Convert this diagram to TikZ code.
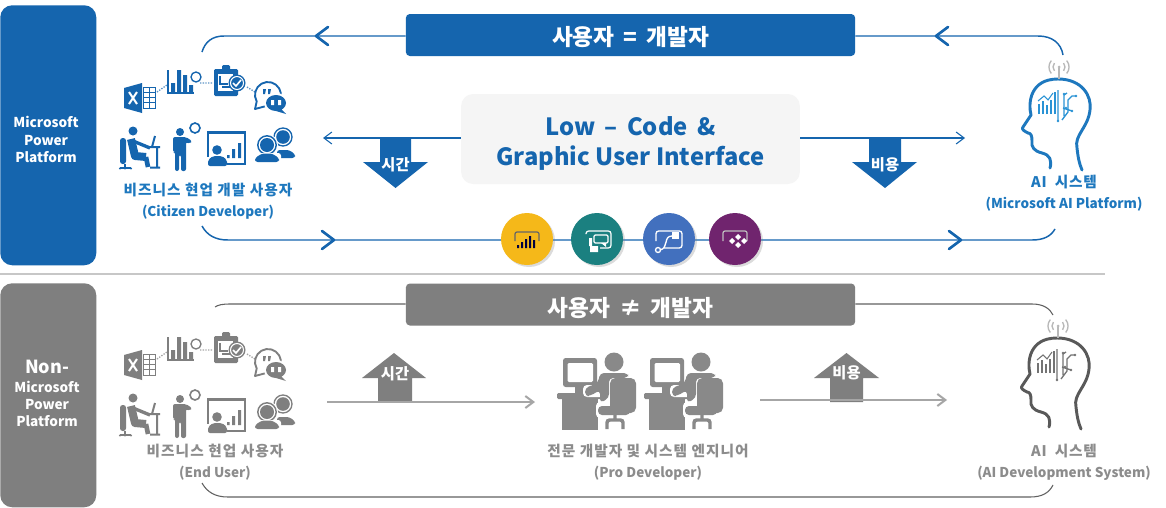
\documentclass[tikz,border=0pt]{standalone}
\usepackage{fontspec}
\setmainfont{Noto Sans CJK KR}
\usetikzlibrary{arrows.meta,shadows,calc}
\definecolor{pblue}{HTML}{1565AE}
\definecolor{pgray}{HTML}{7F7F7F}
\definecolor{lblue}{HTML}{1E78BE}
\definecolor{hblue}{HTML}{2A93D5}
\newcommand{\hgl}[2]{{\fontsize{11}{15.75}\selectfont\addfontfeature{LetterSpace=#1}#2}}
\tikzset{
  x=0.75pt,y=-0.75pt,
  panel/.style={draw=none,rounded corners=9pt},
  paneltext/.style={text=white,font=\bfseries\fontsize{10.2}{12.8}\selectfont,align=center},
  banner/.style={rounded corners=3pt,fill=none,text=white,font=\bfseries\fontsize{17}{20}\selectfont,align=center},
  bluelab/.style={text=lblue,font=\bfseries\fontsize{10.15}{15.75}\selectfont,align=center},
  graylab/.style={text=pgray!90,font=\bfseries\fontsize{10.15}{15.75}\selectfont,align=center},
  conn/.style={draw=pblue,line width=1.1pt},
  gconn/.style={draw=black!62,line width=0.8pt},
  chev/.style={draw=pblue,line width=2pt,line cap=round,line join=round},
  thin arrow/.style={draw=pblue,line width=0.8pt,-{Straight Barb[length=6pt,width=9pt]}},
  gray arrow/.style={draw=black!35,line width=1.5pt,-{Straight Barb[length=6pt,width=9pt]}},
  appc/.style={circle,minimum size=39pt,inner sep=0pt,draw=none,drop shadow={opacity=.28,shadow xshift=1.5pt,shadow yshift=-1.5pt}},
  blocklab/.style={text=white,font=\bfseries\fontsize{11.5}{13}\selectfont,inner sep=0pt},
}
% office icons, given in the coordinates of the blue set
\newcommand{\officeicons}[1]{%
  \fill[#1] (124,88)--(142,83)--(142,113)--(124,108)--cycle;
  \draw[white,line width=1.5pt] (129,92)--(137,104) (137,92)--(129,104);
  \draw[#1,line width=.7pt] (143,87) rectangle (155,108) (143,92)--(155,92) (143,97)--(155,97) (143,102)--(155,102) (149,87)--(149,108);
  \draw[#1!70,densely dotted,line width=1pt] (157,92)--(167,85) (200,83)--(212,83) (247,87)--(255,92);
  \draw[#1,line width=1pt] (168,70)--(168,93)--(194,93);
  \fill[#1] (171,83) rectangle (175,92) (177,70) rectangle (181,92) (183,75) rectangle (187,92) (189,85) rectangle (193,92);
  \draw[#1,line width=1pt,fill=white] (196,77) circle[radius=5];
  \fill[#1,rounded corners=1pt] (214,69) rectangle (238,96) (222,65) rectangle (230,71);
  \fill[white] (218,74) rectangle (233,91);
  \draw[#1,line width=.8pt] (220,76)--(220,84)--(228,84) (222,87)--(230,87);
  \fill[#1] (237,83) circle[radius=8.5];
  \draw[white,line width=.8pt] (237,83) circle[radius=6.5];
  \draw[white,line width=1.2pt] (233,83)--(236,86)--(241,80);
  % speech bubbles
  \draw[#1,line width=1.4pt,fill=white,line join=round] (255,109)--(256.7,101.5) arc[start angle=150,end angle=370,radius=13] -- (270,105) -- cycle;
  \fill[#1] (263,89)--(266,89)--(265,94)--(263,94)--cycle (268,89)--(271,89)--(270,94)--(268,94)--cycle;
  \fill[white] (276,103) ellipse[x radius=12,y radius=10];
  \fill[#1] (276,103) ellipse[x radius=10,y radius=8] (281,109)--(286,114)--(276,111)--cycle;
  \fill[white] (271,100) rectangle (274,105) (278,100) rectangle (281,105);
  % desk worker
  \fill[#1] (133,131) circle[radius=4.5];
  \fill[#1,rounded corners=2pt] (120,138) rectangle (126,164);
  \draw[#1,line width=6pt,line join=round] (131,139)--(135,156)--(146,157);
  \draw[#1,line width=3.5pt] (146,157)--(148,167);
  \draw[#1,line width=2.5pt] (133,141)--(150,148);
  \draw[#1,line width=1.5pt] (148,147)--(160,147) (157,147)--(157,167) (150,167.5)--(160,167.5) (152,147)--(155,136);
  \draw[#1,line width=1.2pt] (125,164)--(125,167) (120,168)--(131,168);
  \fill[#1] (120,168.5) circle[radius=1.2] (125,168.5) circle[radius=1.2] (131,168.5) circle[radius=1.2];
  % standing man
  \fill[#1] (180,132) circle[radius=4];
  \fill[#1,rounded corners=1.5pt] (173,137)--(186,137)--(192,141)--(190,144)--(186,142)--(186,171)--(181,171)--(181,155)--(179,155)--(179,171)--(175,171)--(175,152)--(173,152)--cycle;
  \draw[#1,line width=1.2pt,fill=white] (195,128) circle[radius=5];
  % presenter and board
  \fill[#1] (207,131) rectangle (246,134);
  \draw[#1,line width=1pt] (208,134)--(208,157) (245,134)--(245,164)--(227,164);
  \fill[#1] (217,150) circle[radius=4.8];
  \fill[#1,rounded corners=1.5pt] (208,166) -- (208,160) -- (213,156) -- (222,156) -- (227,160) -- (227,166) -- cycle;
  \fill[#1] (227,155) rectangle (229.5,158) (232,149) rectangle (235,158) (238,143) rectangle (241,158);
  % call agents
  \draw[#1,line width=1pt] (283,137) circle[radius=9];
  \fill[#1] (283,137) circle[radius=6.8];
  \fill[#1,rounded corners=2pt] (277,158)--(277,150)--(289,150)--(295,154)--(295,158)--cycle;
  \fill[white] (267,145) circle[radius=11];
  \draw[#1,line width=1.1pt] (267,145) circle[radius=9.2];
  \fill[#1] (267,145) circle[radius=7];
  \fill[white,rounded corners=2pt] (253,164)--(253,153)--(281,153)--(281,164)--cycle;
  \fill[#1,rounded corners=2pt] (255,162)--(255,158)--(262,153.5)--(272,153.5)--(279,158)--(279,162)--cycle;
}
% head, given in the coordinates of the blue one
\newcommand{\headicon}[3]{%
  \draw[#1,line width=2.2pt,line join=round,line cap=round]
    (1050,168) .. controls (1052,160) and (1050,155) .. (1042,153)
    .. controls (1034,151) and (1031,147) .. (1032,141)
    .. controls (1032,136) and (1031,133) .. (1028,133)
    .. controls (1024,131) and (1021,129) .. (1023,127)
    -- (1031,115)
    .. controls (1028,103) and (1030,79) .. (1058,79)
    .. controls (1082,79) and (1092,96) .. (1090,110)
    .. controls (1088,128) and (1074,135) .. (1077,148)
    .. controls (1078,157) and (1079,163) .. (1082,170);
  \draw[#2,line width=1pt] (1039,114)--(1039,104) (1043,114)--(1043,101) (1047,114)--(1047,105) (1051,114)--(1051,100) (1055,114)--(1055,92);
  \draw[#2,line width=.8pt] (1038,101)--(1044,96)--(1048,100)--(1053,93);
  \draw[#2,line width=1pt] (1058,121)--(1058,90) (1064,116)--(1064,95)--(1067,93)
     (1062,120)--(1068,112)--(1068,100)--(1072,96)--(1076,96) (1063,108)--(1072,111);
  \fill[#2] (1058,121) circle[radius=1.4] (1064,94) circle[radius=1.3] (1076,96) circle[radius=1.3] (1072,111) circle[radius=1.3] (1066,108) circle[radius=1.3];
  \draw[#3,line width=1.2pt] (1059,79)--(1059,68);
  \fill[#3] (1059,67) circle[radius=1.5];
  \draw[#3,line width=1pt] (1054.4,63.1) arc[start angle=220,end angle=140,radius=6]
     (1063.6,63.1) arc[start angle=-40,end angle=40,radius=6]
     (1051.3,60.6) arc[start angle=220,end angle=140,radius=10]
     (1066.7,60.6) arc[start angle=-40,end angle=40,radius=10];
}
\newcommand{\deskicon}{%
  \fill[pgray!92,rounded corners=2pt] (563,358) rectangle (597,387);
  \fill[white,rounded corners=1pt] (567.5,363) rectangle (593,382);
  \fill[pgray!92] (575,387) rectangle (585,393);
  \fill[pgray!92,rounded corners=1pt] (557,393) rectangle (601,399);
  \fill[pgray!92] (562,394) rectangle (598,430);
  \fill[pgray!92] (614,362) circle[radius=9.5];
  \fill[white,rounded corners=3pt] (583,385) rectangle (610,397);
  \fill[pgray!92,rounded corners=3pt] (600,373)--(628,373)--(628,378)--(609,378)--(609,398)--(600,403)--(600,390)--(590,396)--(585,396)--(585,388)--(598,383)--cycle;
  \fill[white,rounded corners=3pt] (596,402) rectangle (612,418);
  \fill[pgray!92,rounded corners=4pt] (610,378) rectangle (636,413);
  \fill[pgray!92,rounded corners=3pt] (598,406) rectangle (630,415);
  \draw[pgray!92,line width=2.6pt,rounded corners=2pt] (607,429)--(607,420)--(623,420)--(623,429) (615,415)--(615,420);
}
\begin{document}
\begin{tikzpicture}
\useasboundingbox (0,0) rectangle (1166,507);
\fill[white] (0,0) rectangle (1166,507);
% left panels
\node[panel,fill=pblue,minimum width=72pt,minimum height=195pt,anchor=north west] (msp) at (0,5) {};
\node[paneltext] (mspt) at (46,139.5) {Microsoft\\Power\\Platform};
\node[panel,fill=pgray,minimum width=72pt,minimum height=168pt,anchor=north west] (nmsp) at (0,283) {};
\node[paneltext] (nmspt) at (47,393) {{\fontsize{13.5}{16}\selectfont Non-}\\[1.5pt]Microsoft\\Power\\Platform};
% separator
\coordinate (sepa) at (0,274); \coordinate (sepb) at (1105,274);
\draw[black!22,line width=1.3pt] (sepa)--(sepb);
% banners
\node[rounded corners=3pt,fill=pblue,minimum width=337pt,minimum height=31.5pt,inner sep=0pt] (topb) at (630.5,35) {};
\node[banner,inner sep=0pt] (topbt) at (630.5,37.5) {사용자 \,=\, 개발자};
\node[rounded corners=3pt,fill=pgray,minimum width=337pt,minimum height=31.5pt,inner sep=0pt] (midb) at (630.5,304.5) {};
\node[banner,inner sep=0pt] (midbt) at (630.5,308) {사용자 \,≠\, 개발자};
% blue connectors
\coordinate (tl) at (202,52); \coordinate (tr) at (1063,55);
\coordinate (bl) at (202,226); \coordinate (br) at (1055,229);
\draw[conn] (tl) .. controls (205,42) and (212,36) .. (224,36) -- (topb.west |- 0,36);
\draw[conn] (topb.east |- 0,36) -- (1038,36) .. controls (1052,36) and (1061,43) .. (tr);
\draw[conn] (bl) .. controls (207,235) and (215,240) .. (228,240) -- (1032,240) .. controls (1044,240) and (1051,236) .. (br);
\draw[chev] (328,27)--(316,36)--(328,45);
\draw[chev] (948,27)--(936,36)--(948,45);
\draw[chev] (322,231)--(334,240)--(322,249);
\draw[chev] (949,231)--(961,240)--(949,249);
% centre box
\node[fill=black!4,rounded corners=9pt,minimum width=254pt,minimum height=67.5pt,inner sep=0pt] (lc) at (630.5,139) {};
\node[align=center,text=pblue,font=\bfseries\fontsize{17.8}{22.5}\selectfont,inner sep=0pt] (lct) at (630.5,143) {Low\, –\, Code\, \&\\Graphic User Interface};
\coordinate (la) at (323,138); \coordinate (ra) at (965,138);
\draw[thin arrow] (lc.west |- la) -- (la);
\draw[thin arrow] (lc.east |- ra) -- (ra);
% block arrows
\fill[pblue] (380,138) rectangle (411,162) (363,162)--(428,162)--(395.5,188)--cycle;
\node[blocklab] (t1) at (395.5,165) {시간};
\fill[pblue] (869,138) rectangle (901,162) (852,162)--(917,162)--(885,188)--cycle;
\node[blocklab] (c1) at (885,165) {비용};
\fill[pgray] (378,402) rectangle (412,378) (362,378)--(426,378)--(394,353)--cycle;
\node[blocklab] (t2) at (395,374) {시간};
\fill[pgray] (830,402) rectangle (863,378) (814,378)--(879,378)--(846.5,353)--cycle;
\node[blocklab] (c2) at (846.5,373) {비용};
% product circles
\node[appc,fill={rgb,255:red,245;green,184;blue,25}] (a1) at (527,239) {};
\node[appc,fill={rgb,255:red,27;green,128;blue,128}] (a2) at (597,239) {};
\node[appc,fill={rgb,255:red,66;green,112;blue,190}] (a3) at (669,239) {};
\node[appc,fill={rgb,255:red,112;green,36;blue,110}] (a4) at (735,239) {};
\draw[black!60,line width=.9pt,rounded corners=1.5pt] (515,241)--(515,232)--(539,232)--(539,241);
\fill[black!75!blue] (517,245) rectangle (519,248) (521,242) rectangle (523,248) (525,239) rectangle (527,248) (529,236) rectangle (531,248) (533,240) rectangle (535,248);
\draw[white,line width=.9pt,rounded corners=2pt] (586,234)--(586,231)--(611,231)--(611,248)--(600,248);
\draw[white,line width=.9pt,rounded corners=1pt] (594,235) rectangle (608,243);
\fill[white] (589,238) rectangle (592,246) (590,246) rectangle (598,252) (601,243)--(606,243)--(606,247)--cycle;
\draw[white,line width=1pt,rounded corners=2pt] (656,241)--(656,231)--(682,231)--(682,248)--(664,248);
\draw[white,line width=1pt] (660,250)..controls (669,248) and (663,236) .. (672,236);
\draw[white,line width=1pt] (658,250) circle[radius=2.5];
\fill[white] (672,232) rectangle (679,239);
\draw[white!75!black,line width=.9pt,rounded corners=1.5pt] (723,241)--(723,231)--(747,231)--(747,241);
\fill[white] (729,241)--(732,238)--(735,241)--(732,244)--cycle (735,237)--(738,234)--(741,237)--(738,240)--cycle (735,245)--(738,242)--(741,245)--(738,248)--cycle (741,241)--(744,238)--(747,241)--(744,244)--cycle;
% blue icons and labels
\officeicons{pblue}
\headicon{lblue}{hblue}{black!28}
\node[bluelab] (cit) at (208,201) {\hgl{7}{비즈니스 현업 개발 사용자}\\(Citizen Developer)};
\node[bluelab] (ais) at (1064,193) {\hgl{5}{AI \ 시스템}\\(Microsoft AI Platform)};
% gray part
\coordinate (gtl) at (215,307); \coordinate (gtr) at (1053,315);
\coordinate (gbl) at (202,483); \coordinate (gbr) at (1053,485);
\draw[gconn] (gtl) .. controls (218,305) and (222,304) .. (230,304) -- (midb.west |- 0,304);
\draw[gconn] (midb.east |- 0,304) -- (1032,304) .. controls (1044,304) and (1050,309) .. (gtr);
\draw[gconn] (gbl) .. controls (207,492) and (215,497) .. (228,497) -- (1030,497) .. controls (1042,497) and (1049,493) .. (gbr);
\begin{scope}[shift={(0,267)}]
\officeicons{pgray}
\end{scope}
\begin{scope}[shift={(-1,259)}]
\headicon{black!65}{black!55}{black!28}
\end{scope}
\deskicon
\begin{scope}[shift={(87,0)}]
\deskicon
\end{scope}
\coordinate (ga1) at (327,402); \coordinate (ga2) at (535,402);
\coordinate (ga3) at (760,400); \coordinate (ga4) at (947,400);
\draw[gray arrow] (ga1)--(ga2);
\draw[gray arrow] (ga3)--(ga4);
\node[graylab] (eu) at (215,462.5) {\hgl{7.5}{비즈니스 현업 사용자}\\(End User)};
\node[graylab] (pd) at (648,462.5) {\hgl{7}{전문 개발자 및 시스템 엔지니어}\\(Pro Developer)};
\node[graylab] (ad) at (1064,462.5) {\hgl{5}{AI \ 시스템}\\(AI Development System)};
\end{tikzpicture}
\end{document}
